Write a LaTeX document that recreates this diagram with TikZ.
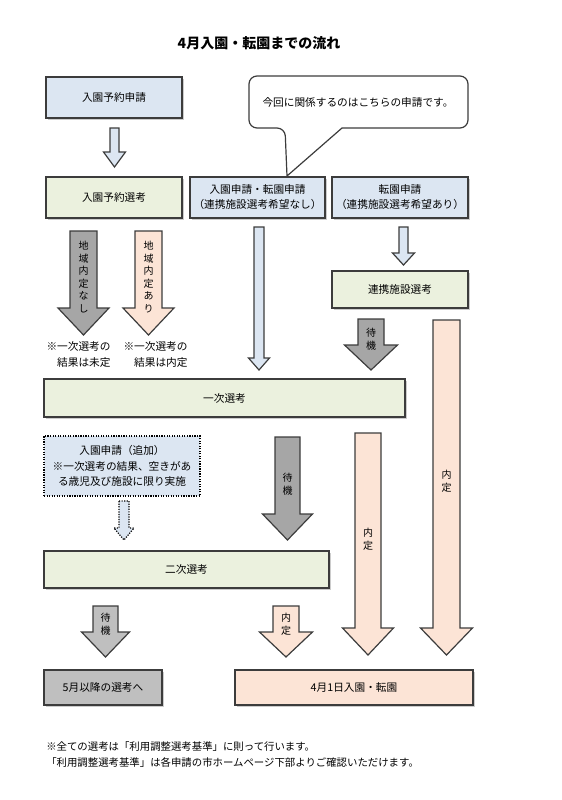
\documentclass[tikz,border=0pt]{standalone}
\usepackage{fontspec}
\setmainfont{Noto Sans CJK JP}
\usepackage{xcolor}
\usepackage{tikz}
\usetikzlibrary{shadows}
\definecolor{flowblue}{RGB}{220, 230, 242}
\definecolor{flowgreen}{RGB}{235, 241, 222}
\definecolor{flowpink}{RGB}{252, 228, 214}
\definecolor{flowgray}{RGB}{191, 191, 191}
\definecolor{flowdark}{RGB}{166, 166, 166}
\definecolor{flowline}{RGB}{60, 60, 60}
% block arrow: style, center x, top y, shaft half, head half, head start y, tip y
\newcommand{\blockarrow}[7]{%
  \draw[#1] ({#2-#4},#3) -- ({#2+#4},#3) -- ({#2+#4},#6) -- ({#2+#5},#6) -- (#2,#7) -- ({#2-#5},#6) -- ({#2-#4},#6) -- cycle;}
\tikzset{
  flowbox/.style={draw=flowline, line width=0.9pt, inner sep=0pt, align=center,
    font=\fontsize{8}{11.25}\selectfont,
    drop shadow={shadow xshift=1.3pt, shadow yshift=-1.3pt, opacity=0.4}},
  flowarrow/.style={draw=flowline, line width=0.9pt},
  tatetext/.style={align=center, inner sep=0pt, font=\fontsize{7.5}{9.4}\selectfont},
  notetext/.style={align=right, inner sep=0pt, font=\fontsize{8}{12}\selectfont},
}

\begin{document}
\begin{tikzpicture}[x=0.75pt, y=-0.75pt]
        \useasboundingbox (0,0) rectangle (561,800);
        % Title
        \node[inner sep=0pt, font=\bfseries\fontsize{10.5}{12}\selectfont] (title) at (259,43) {4月入園・転園までの流れ};

        % Callout
        \draw[flowline, line width=0.9pt, fill=white] (400,128) [rounded corners=6pt] -- (468,128) -- (468,76) -- (249,76) -- (249,128) -- (285,128) [sharp corners] -- (287,176) -- (342,128) -- cycle;
        \node[inner sep=0pt, font=\fontsize{8}{10}\selectfont] (callout) at (358,102) {今回に関係するのはこちらの申請です。};

        % Boxes
        \node[flowbox, fill=flowblue, minimum width=102pt, minimum height=30.75pt] (yoyaku) at (114,97.5) {入園予約申請};
        \node[flowbox, fill=flowgreen, minimum width=102pt, minimum height=30.75pt] (yoyakusen) at (114,197.5) {入園予約選考};
        \node[flowbox, fill=flowblue, minimum width=101.25pt, minimum height=30.75pt] (nyuen) at (257.5,197.5) {入園申請・転園申請\\（連携施設選考希望なし）};
        \node[flowbox, fill=flowblue, minimum width=102pt, minimum height=30.75pt] (tenen) at (400,197.5) {転園申請\\（連携施設選考希望あり）};
        \node[flowbox, fill=flowgreen, minimum width=102pt, minimum height=27.75pt] (renkei) at (400,289.5) {連携施設選考};
        \node[flowbox, fill=flowgreen, minimum width=270.75pt, minimum height=28.5pt] (ichiji) at (224.5,398) {一次選考};
        \node[draw=black, densely dotted, line width=0.9pt, fill=flowblue, inner sep=0pt, align=center, font=\fontsize{8}{11.6}\selectfont, minimum width=117pt, minimum height=45pt] (tsuika) at (122,466) {入園申請（追加）\\※一次選考の結果、空きがあ\\る歳児及び施設に限り実施};
        \node[flowbox, fill=flowgreen, minimum width=213.75pt, minimum height=27.75pt] (niji) at (186.5,569.5) {二次選考};
        \node[flowbox, fill=flowgray, minimum width=88.5pt, minimum height=26.25pt] (gogatsu) at (103,687.5) {5月以降の選考へ};
        \node[flowbox, fill=flowpink, minimum width=178.5pt, minimum height=26.25pt] (shigatsu) at (354,687.5) {4月1日入園・転園};

        % Block arrows
        \blockarrow{flowarrow, fill=flowblue}{114.5}{128}{4.5}{11}{152}{167}
        \blockarrow{flowarrow, fill=flowdark}{83.5}{231}{13.5}{25.5}{308}{335}
        \blockarrow{flowarrow, fill=flowpink}{148.5}{231}{13.5}{25.5}{308}{335}
        \blockarrow{flowarrow, fill=flowblue}{259}{227}{5}{10.5}{358}{370}
        \blockarrow{flowarrow, fill=flowblue}{403.5}{227}{4.5}{11}{253}{265}
        \blockarrow{flowarrow, fill=flowdark}{371}{319}{13}{26.5}{345}{370}
        \blockarrow{flowarrow, fill=flowpink}{446.5}{320}{13.5}{26}{628}{655}
        \blockarrow{flowarrow, fill=flowpink}{368}{433}{13}{25.5}{628}{655}
        \blockarrow{flowarrow, densely dotted, draw=black, fill=flowblue}{124}{501}{5}{10}{528}{540}
        \blockarrow{flowarrow, fill=flowdark}{287.5}{437}{12.5}{25}{514}{540}
        \blockarrow{flowarrow, fill=flowgray}{105.5}{606}{12.5}{24}{632}{657}
        \blockarrow{flowarrow, fill=flowpink}{286}{606}{13}{26.5}{632}{657}

        % Arrow labels
        \node[tatetext] (nashi) at (83.5,277) {地\\域\\内\\定\\な\\し};
        \node[tatetext] (ari) at (148.5,277) {地\\域\\内\\定\\あ\\り};
        \node[tatetext] (taiki1) at (371,339) {待\\機};
        \node[tatetext] (taiki2) at (287.5,484) {待\\機};
        \node[tatetext] (taiki3) at (105.5,624) {待\\機};
        \node[tatetext] (naitei1) at (446.5,481) {内\\定};
        \node[tatetext] (naitei2) at (368,539) {内\\定};
        \node[tatetext] (naitei3) at (286,624) {内\\定};

        % Notes
        \node[notetext] (notenashi) at (78.5,354) {※一次選考の\\結果は未定};
        \node[notetext] (noteari) at (155.5,354) {※一次選考の\\結果は内定};
        \node[anchor=west, align=left, inner sep=0pt, font=\fontsize{7.8}{12}\selectfont] (footnote) at (46,755) {※全ての選考は「利用調整選考基準」に則って行います。\\「利用調整選考基準」は各申請の市ホームページ下部よりご確認いただけます。};
    \end{tikzpicture}
\end{document}
